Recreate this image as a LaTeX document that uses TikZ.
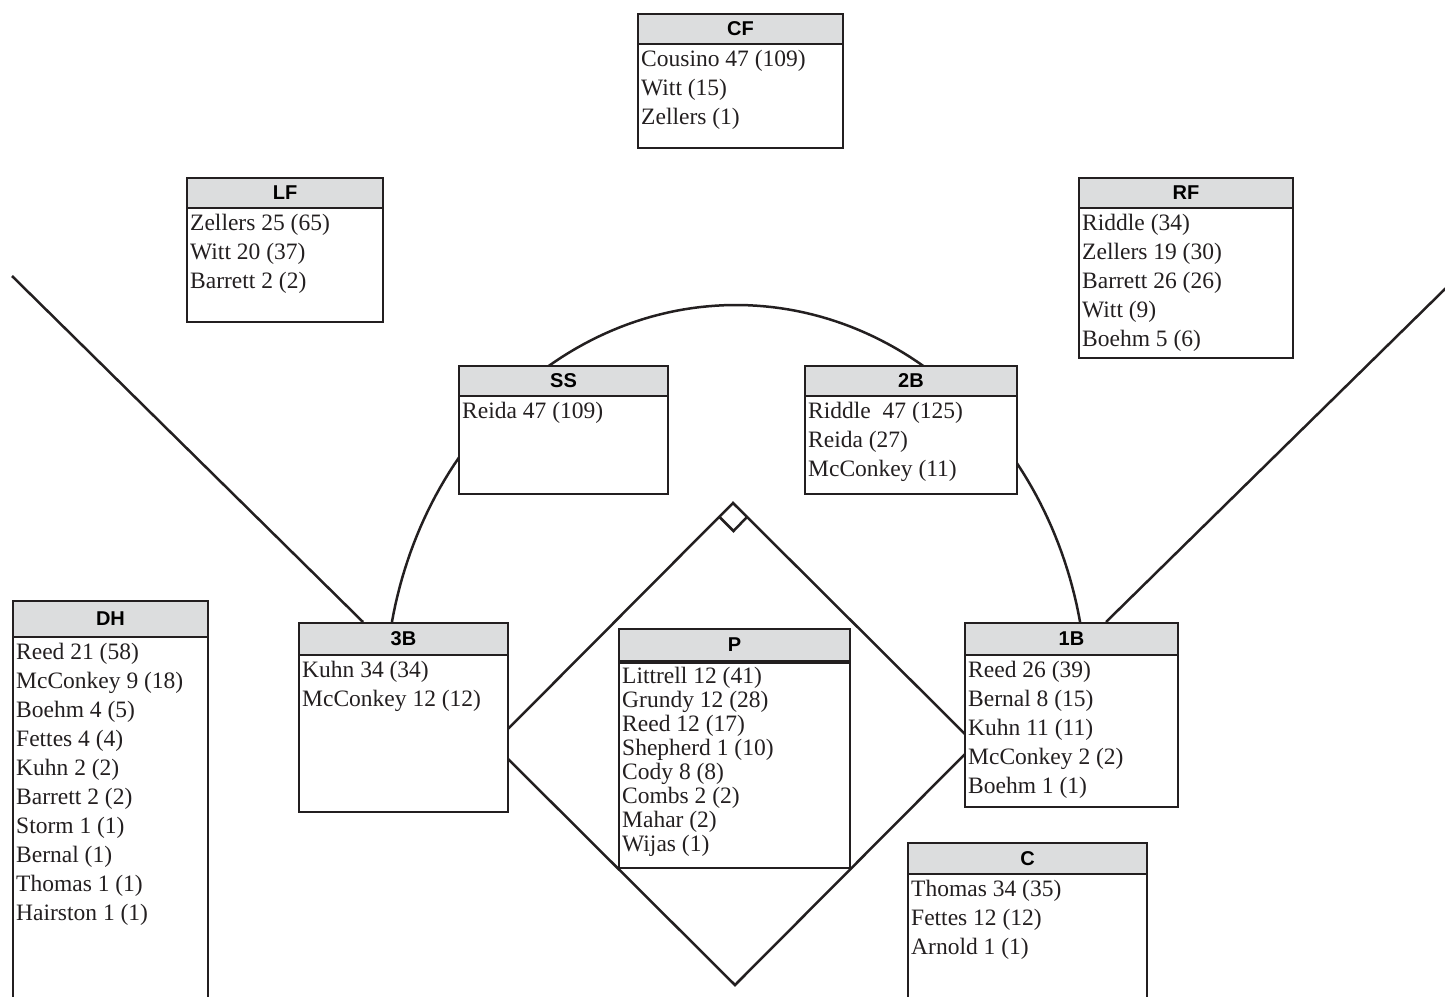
\documentclass[tikz,border=0pt]{standalone}
\usepackage{fontspec}
\setmainfont{Liberation Serif}
\newfontfamily\headfont{Liberation Sans}
\pgfdeclarelayer{background}
\pgfsetlayers{background,main}
\definecolor{ink}{HTML}{231F20}
\definecolor{headgray}{HTML}{DCDDDE}
\tikzset{
  fieldline/.style={draw=ink, line width=2.5pt},
  boxbody/.style={draw=ink, fill=white, line width=2pt, inner sep=0pt, anchor=north west},
  boxhead/.style={draw=ink, fill=headgray, line width=2pt, inner sep=0pt, anchor=north west,
    font=\headfont\bfseries\fontsize{20}{22}\selectfont},
  boxlist/.style={inner sep=0pt, anchor=north west, align=left, text=ink,
    font=\fontsize{23.5}{29}\selectfont},
  tightlist/.style={font=\fontsize{23.5}{24}\selectfont},
}
\newcommand\fieldbox[9]{% name, x, y, w, h, header h, title, lines, list style
  \node[boxbody, minimum width=#4pt, minimum height=#5pt] (#1) at (#2,#3) {};
  \node[boxhead, minimum width=#4pt, minimum height=#6pt] (#1h) at (#2,#3) {#7};
  \node[boxlist, #9] (#1t) at ([xshift=4pt]#1h.south west) {\rule{0pt}{21pt}#8};
}
\begin{document}
\begin{tikzpicture}[x=1pt, y=-1pt]
\useasboundingbox (0,0) rectangle (1445,996);

\fieldbox{cf}{637}{13}{205}{134}{30}{CF}{Cousino 47 (109)\\Witt (15)\\Zellers (1)}{}
\fieldbox{lf}{186}{177}{196}{144}{30}{LF}{Zellers 25 (65)\\Witt 20 (37)\\Barrett 2 (2)}{}
\fieldbox{rf}{1078}{177}{214}{180}{30}{RF}{Riddle (34)\\Zellers 19 (30)\\Barrett 26 (26)\\Witt (9)\\Boehm 5 (6)}{}
\fieldbox{ss}{458}{365}{209}{128}{30}{SS}{Reida 47 (109)}{}
\fieldbox{sb}{804}{365}{212}{128}{30}{2B}{Riddle\ \ 47 (125)\\Reida (27)\\McConkey (11)}{}
\fieldbox{dh}{12}{600}{195}{420}{36}{DH}{Reed 21 (58)\\McConkey 9 (18)\\Boehm 4 (5)\\Fettes 4 (4)\\Kuhn 2 (2)\\Barrett 2 (2)\\Storm 1 (1)\\Bernal (1)\\Thomas 1 (1)\\Hairston 1 (1)}{}
\fieldbox{tb}{298}{622}{209}{189}{32}{3B}{Kuhn 34 (34)\\McConkey 12 (12)}{}
\fieldbox{pp}{618}{628}{231}{239}{32}{P}{Littrell 12 (41)\\Grundy 12 (28)\\Reed 12 (17)\\Shepherd 1 (10)\\Cody 8 (8)\\Combs 2 (2)\\Mahar (2)\\Wijas (1)}{tightlist}
\draw[ink, line width=3.2pt] (pph.south west) -- (pph.south east);
\fieldbox{fb}{964}{622}{213}{184}{32}{1B}{Reed 26 (39)\\Bernal 8 (15)\\Kuhn 11 (11)\\McConkey 2 (2)\\Boehm 1 (1)}{}
\fieldbox{cc}{907}{842}{239}{200}{31}{C}{Thomas 34 (35)\\Fettes 12 (12)\\Arnold 1 (1)}{}

\begin{pgfonlayer}{background}
  \fill[white] (0,0) rectangle (1445,996);
  % infield diamond
  \coordinate (home) at (735,985);
  \coordinate (third) at (493,744);
  \coordinate (second) at (733,503);
  \coordinate (first) at (975,744);
  \draw[fieldline, line join=miter] (home) -- (third) -- (second) -- (first) -- cycle;
  \coordinate (bagl) at (719.5,517);
  \coordinate (bagb) at (733.5,531);
  \coordinate (bagr) at (747,517);
  \draw[fieldline, line join=miter] (bagl) -- (bagb) -- (bagr);
  % outfield arc
  \draw[fieldline] plot[domain=-168.6:-11.4, samples=120] ({736+351*cos(\x)}, {700+395*sin(\x)});
  % foul lines
  \coordinate (leftfoul) at (12,276);
  \coordinate (rightfoul) at (1446,288);
  \draw[fieldline] (leftfoul) -- ([xshift=65pt]tb.north west);
  \draw[fieldline] (rightfoul) -- ([xshift=142pt]fb.north west);
\end{pgfonlayer}
\end{tikzpicture}
\end{document}
